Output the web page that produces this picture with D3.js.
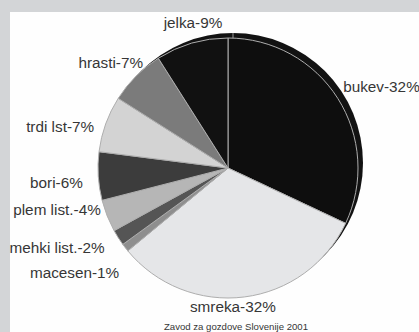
<!DOCTYPE html>
<html>
<head>
<meta charset="utf-8">
<script src="https://cdn.jsdelivr.net/npm/d3@7"></script>
<style>
    body { margin: 0; background: #d3d5d7; }
    svg { display: block; }
    text { font-family: "Liberation Sans", Arial, sans-serif; fill: #363636; }
</style>
</head>
<body>
<svg id="chart" width="419" height="332"></svg>
<script>
// wood species, share of growing stock (%)
const species = ['bukev', 'smreka', 'macesen', 'mehki list.', 'plem list.', 'bori', 'trdi lst', 'hrasti', 'jelka'];
const shares = [32, 32, 1, 2, 4, 6, 7, 7, 9];
const fills = ['#0e0e0e', '#e5e6e8', '#8e8e8e', '#555555', '#b6b6b6', '#3c3c3c', '#d3d3d3', '#7b7b7b', '#111111'];
const source = 'Zavod za gozdove Slovenije 2001';

// label placement: angle tweak (deg) from slice middle, distance from centre, anchor
const labelLayout = [
    [-2.8, 141, 'start'],
    [5.2, 139, 'middle'],
    [-6.1, 151, 'end'],
    [-0.6, 147, 'end'],
    [3.3, 134, 'end'],
    [-2.3, 146, 'end'],
    [-2.8, 140, 'end'],
    [6.0, 135, 'end'],
    [2.6, 149, 'middle']
];

const width = 419, height = 332;
const cx = 228, cy = 168, radius = 130;

let svg = d3.select('#chart');

// white panel over the grey frame
svg.append('rect')
    .attr('x', 10).attr('y', 12)
    .attr('width', width - 10).attr('height', height - 12)
    .attr('fill', '#fefefe');

let data = species.map((name, i) => ({name: name, value: shares[i], fill: fills[i], layout: labelLayout[i]}));

let pie = d3.pie().sort(null).value(d => d.value);
let arcs = pie(data);
let arc = d3.arc().innerRadius(0).outerRadius(radius);

//dark shadow disc behind the pie, shifted up-right
let shadow = svg.append('g').attr('transform', `translate(${cx + 5},${cy - 5})`);
shadow.append('circle').attr('r', radius).attr('fill', '#121212');
shadow.append('line')
    .attr('x1', 0).attr('y1', 0)
    .attr('x2', 0).attr('y2', -radius)
    .attr('stroke', '#9a9a9a').attr('stroke-width', 1);

let g = svg.append('g').attr('transform', `translate(${cx},${cy})`);

g.selectAll('path')
    .data(arcs)
    .enter()
    .append('path')
    .attr('d', arc)
    .attr('fill', d => d.data.fill)
    .attr('stroke', '#aeaeae')
    .attr('stroke-width', 1)
    .attr('stroke-linejoin', 'round');

//labels
g.selectAll('text.label')
    .data(arcs)
    .enter()
    .append('text')
    .classed('label', true)
    .attr('x', d => {
        let a = (d.startAngle + d.endAngle) / 2 + d.data.layout[0] * Math.PI / 180;
        return d.data.layout[1] * Math.sin(a);
    })
    .attr('y', d => {
        let a = (d.startAngle + d.endAngle) / 2 + d.data.layout[0] * Math.PI / 180;
        return -d.data.layout[1] * Math.cos(a) + 5;
    })
    .attr('text-anchor', d => d.data.layout[2])
    .style('font-size', '15.3px')
    .text(d => d.data.name + '-' + d.data.value + '%');

svg.append('text')
    .attr('x', 236)
    .attr('y', 329.5)
    .attr('text-anchor', 'middle')
    .style('font-size', '9.6px')
    .text(source);
</script>
</body>
</html>
